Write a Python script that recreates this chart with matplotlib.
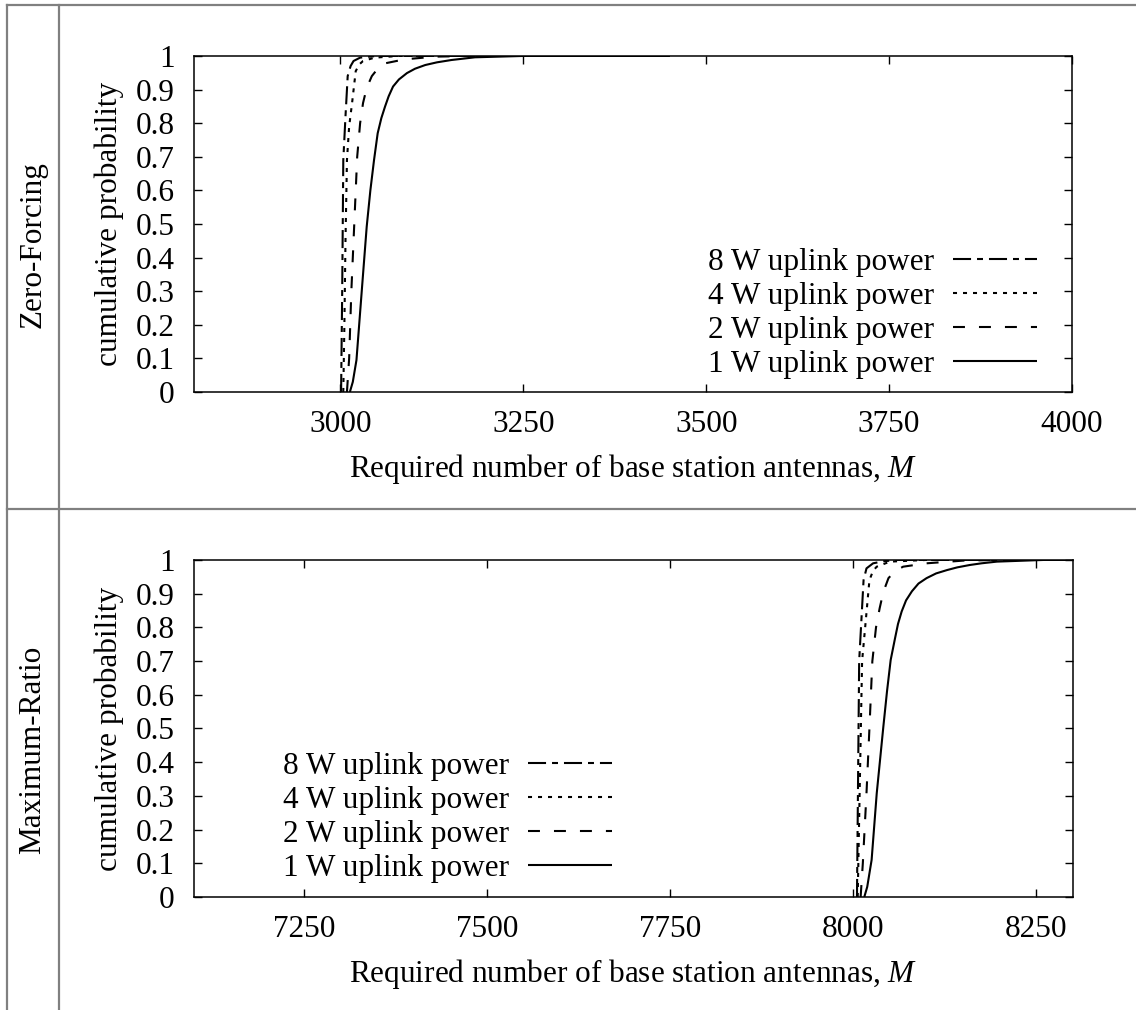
import matplotlib
matplotlib.use("Agg")
import matplotlib.pyplot as plt
from matplotlib.lines import Line2D

plt.rcParams["font.family"] = ["Liberation Serif", "DejaVu Serif"]
plt.rcParams["mathtext.fontset"] = "custom"
plt.rcParams["mathtext.it"] = "Liberation Serif:italic"
plt.rcParams["mathtext.rm"] = "Liberation Serif"
plt.rcParams["lines.scale_dashes"] = False

# data (CDF curves)
labels = ["1 W uplink power", "2 W uplink power", "4 W uplink power", "8 W uplink power"]

zf_1w_x = [3013, 3017, 3022, 3029, 3036, 3041, 3046, 3051, 3056, 3061, 3066, 3072, 3080,
           3091, 3102, 3116, 3132, 3152, 3184, 3250, 3450]
zf_1w_y = [0.0, 0.03, 0.095, 0.294, 0.492, 0.60, 0.69, 0.77, 0.815, 0.849, 0.88, 0.909, 0.93,
           0.949, 0.962, 0.973, 0.981, 0.988, 0.996, 1.0, 1.0]
zf_2w_x = [3009, 3012, 3015, 3019, 3023, 3027, 3031, 3036, 3043, 3051, 3061, 3088, 3130, 3180, 3450]
zf_2w_y = [0.0, 0.1, 0.3, 0.5, 0.7, 0.8, 0.86, 0.905, 0.94, 0.962, 0.978, 0.99, 0.998, 1.0, 1.0]
zf_4w_x = [3004, 3005.5, 3007, 3009, 3012, 3016, 3021, 3026, 3031, 3047, 3080, 3450]
zf_4w_y = [0.0, 0.2, 0.45, 0.69, 0.79, 0.86, 0.955, 0.975, 0.985, 0.995, 1.0, 1.0]
zf_8w_x = [3001, 3002.5, 3004, 3007, 3010, 3014, 3018, 3027, 3050, 3450]
zf_8w_y = [0.0, 0.3, 0.69, 0.82, 0.94, 0.97, 0.985, 0.995, 1.0, 1.0]

mr_1w_x = [8015, 8019, 8025, 8032, 8041, 8046, 8051, 8057, 8061, 8066, 8072, 8080, 8089,
           8100, 8113, 8128, 8142, 8159, 8175, 8196, 8260, 8300]
mr_1w_y = [0.0, 0.03, 0.11, 0.308, 0.505, 0.61, 0.703, 0.768, 0.81, 0.847, 0.88, 0.907, 0.93,
           0.946, 0.96, 0.97, 0.978, 0.985, 0.99, 0.995, 1.0, 1.0]
mr_2w_x = [8010, 8013, 8018, 8022, 8026, 8031, 8036, 8041, 8048, 8057, 8068, 8100, 8150, 8200, 8300]
mr_2w_y = [0.0, 0.1, 0.308, 0.5, 0.70, 0.80, 0.857, 0.905, 0.946, 0.967, 0.98, 0.99, 0.998, 1.0, 1.0]
mr_4w_x = [8006, 8009, 8012, 8017, 8022, 8027, 8032, 8050, 8100, 8300]
mr_4w_y = [0.0, 0.35, 0.70, 0.82, 0.94, 0.968, 0.98, 0.995, 1.0, 1.0]
mr_8w_x = [8005, 8006.5, 8008, 8011, 8014, 8018, 8027, 8041, 8060, 8300]
mr_8w_y = [0.0, 0.35, 0.70, 0.82, 0.94, 0.975, 0.99, 0.996, 1.0, 1.0]

zf_xticks = [3000, 3250, 3500, 3750, 4000]
mr_xticks = [7250, 7500, 7750, 8000, 8250]
yticks = [0, 0.1, 0.2, 0.3, 0.4, 0.5, 0.6, 0.7, 0.8, 0.9, 1]
ytick_labels = ["0", "0.1", "0.2", "0.3", "0.4", "0.5", "0.6", "0.7", "0.8", "0.9", "1"]

styles = ["-", (0, (8.6, 10.1)), (0, (2.9, 4.3)), (0, (13, 4.3, 4.3, 4.3))]
FS = 22.5
LW = 1.5


def draw_panel(ax, curves, xlim, xticks, legend_anchor):
    lines = []
    for (x, y), ls, lab in zip(curves, styles, labels):
        ln, = ax.plot(x, y, color="black", lw=LW, linestyle=ls, label=lab,
                      dash_capstyle="butt", solid_capstyle="butt")
        lines.append(ln)
    ax.set_xlim(*xlim)
    ax.set_ylim(0, 1)
    ax.set_xticks(xticks)
    ax.set_yticks(yticks)
    ax.set_yticklabels(ytick_labels)
    ax.tick_params(direction="in", top=True, right=True, length=5.8, width=1.0,
                   labelsize=FS)
    ax.tick_params(axis="y", pad=14)
    ax.tick_params(axis="x", pad=13)
    for s in ax.spines.values():
        s.set_linewidth(1.1)
    ax.set_xlabel("Required number of base station antennas, $M$", fontsize=FS, labelpad=9)
    ax.set_ylabel("cumulative probability", fontsize=FS, labelpad=8)
    ax.legend(lines[::-1], labels[::-1], loc="center right", bbox_to_anchor=legend_anchor,
              frameon=False, markerfirst=False, fontsize=FS, handlelength=2.68,
              handletextpad=0.6, labelspacing=0.16, borderpad=0, borderaxespad=0)


fig = plt.figure(figsize=(11.36, 10.10), dpi=100)

ax1 = fig.add_axes([0.1708, 0.6119, 0.7729, 0.3327])
draw_panel(ax1, [(zf_1w_x, zf_1w_y), (zf_2w_x, zf_2w_y), (zf_4w_x, zf_4w_y), (zf_8w_x, zf_8w_y)],
           (2800, 4000), zf_xticks, (0.960, 0.235))

ax2 = fig.add_axes([0.1708, 0.1119, 0.7738, 0.3337])
draw_panel(ax2, [(mr_1w_x, mr_1w_y), (mr_2w_x, mr_2w_y), (mr_4w_x, mr_4w_y), (mr_8w_x, mr_8w_y)],
           (7100, 8300), mr_xticks, (0.4755, 0.236))

# table grid lines around the panels
W, H = 1136.0, 1010.0
grey = "#808080"
for xs, ys in [([7, 7], [5, 1010]), ([59, 59], [5, 1010]),
               ([7, 1136], [5, 5]), ([7, 1136], [509, 509])]:
    fig.add_artist(Line2D([x / W for x in xs], [1 - y / H for y in ys],
                          color=grey, lw=1.6, transform=fig.transFigure))

fig.text(33 / W, 1 - 245 / H, "Zero-Forcing", rotation=90, fontsize=FS,
         ha="center", va="center")
fig.text(33 / W, 1 - 750 / H, "Maximum-Ratio", rotation=90, fontsize=FS,
         ha="center", va="center")

fig.savefig("out.png", dpi=100)
